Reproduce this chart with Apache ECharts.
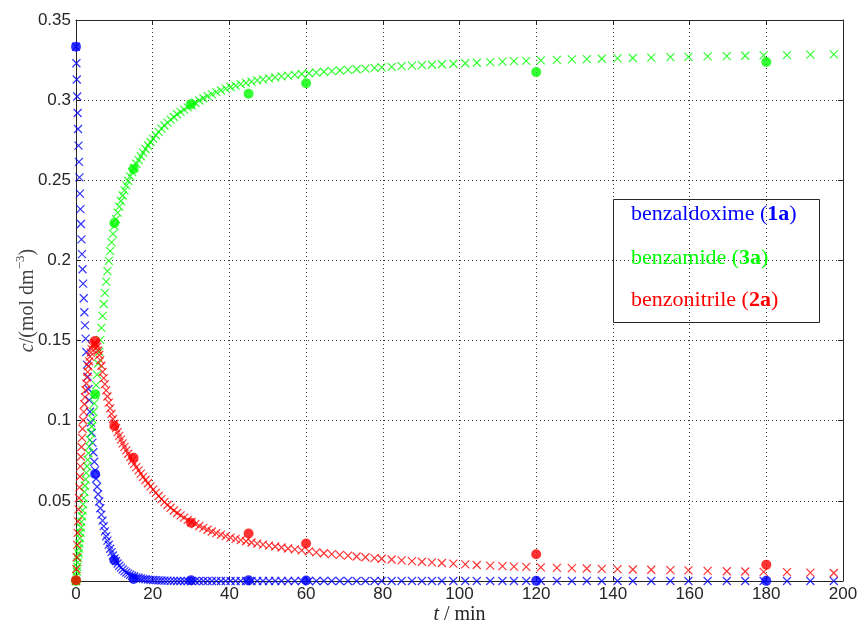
<!DOCTYPE html>
<html><head><meta charset="utf-8">
<script src="https://cdn.jsdelivr.net/npm/echarts@6/dist/echarts.min.js"></script>
<style>html,body{margin:0;padding:0;background:#fff}#c{width:858px;height:623px}</style>
</head><body><div id="c"></div><script>
// ---- data ----
const tModel = [
0, 0.1, 0.2, 0.31, 0.42, 0.53, 0.65, 0.77, 0.89, 1.02,
1.15, 1.28, 1.42, 1.56, 1.71, 1.86, 2.02, 2.18, 2.34, 2.51,
2.69, 2.87, 3.05, 3.25, 3.44, 3.65, 3.86, 4.07, 4.29, 4.52,
4.76, 5.0, 5.25, 5.51, 5.77, 6.05, 6.33, 6.62, 6.92, 7.23,
7.54, 7.87, 8.2, 8.55, 8.91, 9.27, 9.65, 10.04, 10.44, 10.86,
11.28, 11.72, 12.17, 12.64, 13.12, 13.61, 14.12, 14.64, 15.18, 15.74,
16.31, 16.9, 17.5, 18.13, 18.77, 19.44, 20.12, 20.82, 21.55, 22.29,
23.06, 23.86, 24.67, 25.51, 26.38, 27.27, 28.19, 29.13, 30.11, 31.11,
32.14, 33.21, 34.3, 35.43, 36.59, 37.79, 39.03, 40.3, 41.61, 42.95,
44.34, 45.77, 47.25, 48.76, 50.33, 51.94, 53.59, 55.3, 57.06, 58.87,
60.74, 62.66, 64.64, 66.68, 68.78, 70.94, 73.17, 75.47, 77.83, 79.7,
82.3, 84.9, 87.6, 90.2, 92.8, 95.4, 98.4, 101.5, 104.5, 108.0,
111.2, 114.2, 117.4, 121.2, 125.4, 129.3, 133.2, 137.1, 141.2, 145.2,
150.0, 155.0, 159.7, 164.7, 169.7, 174.5, 179.3, 185.4, 191.5, 197.6
];
const benzaldoximeModel = [
0.3333, 0.3230, 0.3129, 0.3023, 0.2920, 0.2820, 0.2716, 0.2615, 0.2518, 0.2417,
0.2320, 0.2227, 0.2131, 0.2039, 0.1945, 0.1855, 0.1764, 0.1677, 0.1595, 0.1512,
0.1429, 0.1350, 0.1275, 0.1198, 0.1128, 0.1056, 0.0988, 0.0925, 0.0863, 0.0803,
0.0744, 0.0690, 0.0638, 0.0588, 0.0541, 0.0496, 0.0454, 0.0414, 0.0377, 0.0342,
0.0310, 0.0279, 0.0252, 0.0226, 0.0201, 0.0180, 0.0159, 0.0141, 0.0124, 0.0109,
0.0095, 0.0083, 0.0072, 0.0062, 0.0053, 0.0046, 0.0039, 0.0033, 0.0028, 0.0023,
0.0020, 0.0016, 0.0013, 0.0011, 0.0009, 0.0007, 0.0006, 0.0005, 0.0004, 0.0003,
0.0002, 0.0002, 0.0001, 0.0001, 0, 0, 0, 0, 0, 0,
0, 0, 0, 0, 0, 0, 0, 0, 0, 0,
0, 0, 0, 0, 0, 0, 0, 0, 0, 0,
0, 0, 0, 0, 0, 0, 0, 0, 0, 0,
0, 0, 0, 0, 0, 0, 0, 0, 0, 0,
0, 0, 0, 0, 0, 0, 0, 0, 0, 0,
0, 0, 0, 0, 0, 0, 0, 0, 0, 0
];
const benzonitrileModel = [
0, 0.0075, 0.0148, 0.0225, 0.0300, 0.0372, 0.0447, 0.0518, 0.0584, 0.0652,
0.0715, 0.0775, 0.0836, 0.0893, 0.0950, 0.1003, 0.1055, 0.1103, 0.1147, 0.1190,
0.1232, 0.1270, 0.1305, 0.1340, 0.1370, 0.1400, 0.1425, 0.1447, 0.1465, 0.1477,
0.1484, 0.1485, 0.1476, 0.1460, 0.1438, 0.1410, 0.1378, 0.1343, 0.1305, 0.1266,
0.1228, 0.1189, 0.1151, 0.1113, 0.1077, 0.1043, 0.1011, 0.0981, 0.0954, 0.0929,
0.0905, 0.0882, 0.0859, 0.0837, 0.0815, 0.0794, 0.0773, 0.0752, 0.0731, 0.0710,
0.0690, 0.0670, 0.0650, 0.0630, 0.0610, 0.0590, 0.0570, 0.0550, 0.0530, 0.0511,
0.0492, 0.0474, 0.0457, 0.0440, 0.0424, 0.0409, 0.0395, 0.0381, 0.0368, 0.0355,
0.0343, 0.0331, 0.0320, 0.0309, 0.0299, 0.0289, 0.0280, 0.0271, 0.0263, 0.0255,
0.0248, 0.0240, 0.0233, 0.0227, 0.0221, 0.0215, 0.0209, 0.0203, 0.0197, 0.0191,
0.0185, 0.0179, 0.0173, 0.0168, 0.0163, 0.0158, 0.0153, 0.0148, 0.0143, 0.0139,
0.0134, 0.0129, 0.0124, 0.0120, 0.0116, 0.0112, 0.0108, 0.0104, 0.0100, 0.0096,
0.0093, 0.0090, 0.0088, 0.0085, 0.0082, 0.0080, 0.0078, 0.0076, 0.0074, 0.0072,
0.0070, 0.0068, 0.0066, 0.0063, 0.0061, 0.0059, 0.0057, 0.0055, 0.0052, 0.0050
];
const benzamideModel = [
0, 0.0031, 0.0059, 0.0088, 0.0116, 0.0144, 0.0173, 0.0203, 0.0234, 0.0267,
0.0301, 0.0334, 0.0369, 0.0404, 0.0441, 0.0478, 0.0517, 0.0556, 0.0594, 0.0634,
0.0675, 0.0716, 0.0756, 0.0798, 0.0838, 0.0880, 0.0923, 0.0964, 0.1008, 0.1056,
0.1108, 0.1161, 0.1222, 0.1288, 0.1357, 0.1430, 0.1504, 0.1579, 0.1654, 0.1728,
0.1798, 0.1868, 0.1933, 0.1997, 0.2058, 0.2113, 0.2166, 0.2214, 0.2258, 0.2298,
0.2336, 0.2371, 0.2405, 0.2437, 0.2468, 0.2496, 0.2524, 0.2551, 0.2577, 0.2603,
0.2626, 0.2650, 0.2673, 0.2695, 0.2717, 0.2739, 0.2760, 0.2781, 0.2802, 0.2822,
0.2842, 0.2860, 0.2878, 0.2895, 0.2912, 0.2927, 0.2941, 0.2955, 0.2968, 0.2984,
0.2998, 0.3012, 0.3025, 0.3038, 0.3050, 0.3061, 0.3072, 0.3082, 0.3091, 0.3100,
0.3108, 0.3116, 0.3123, 0.3130, 0.3136, 0.3142, 0.3148, 0.3153, 0.3158, 0.3163,
0.3168, 0.3172, 0.3177, 0.3181, 0.3185, 0.3189, 0.3193, 0.3197, 0.3201, 0.3204,
0.3208, 0.3212, 0.3215, 0.3218, 0.3221, 0.3224, 0.3227, 0.3230, 0.3233, 0.3237,
0.3240, 0.3243, 0.3245, 0.3248, 0.3251, 0.3254, 0.3256, 0.3258, 0.3261, 0.3263,
0.3265, 0.3268, 0.3270, 0.3273, 0.3275, 0.3277, 0.3279, 0.3281, 0.3284, 0.3286
];
const tExp = [0, 5, 10, 15, 30, 45, 60, 120, 180];
const benzaldoximeExp = [0.3333, 0.0667, 0.0129, 0.0012, 0.0005, 0.0004, 0.0003, 0.0001, 0.0001];
const benzamideExp    = [0, 0.1165, 0.2234, 0.2570, 0.2975, 0.3040, 0.3105, 0.3175, 0.3238];
const benzonitrileExp = [0.0005, 0.1498, 0.0967, 0.0769, 0.0363, 0.0296, 0.0234, 0.0167, 0.0102];
const xTicks = {min: 0, max: 200, interval: 20};
const yTicks = {min: 0, max: 0.35, interval: 0.05};

// ---- chart ----
const BLUE = '#0000ff', GREEN = '#00ff00', RED = '#ff0000';
const AX = '#262626';
const chart = echarts.init(document.getElementById('c'), null, {renderer: 'canvas'});
const pair = (t, v) => t.map((x, i) => [x, v[i]]);
const crossPath = 'path://M0,0L10,10M10,0L0,10';
function crossSeries(name, color, vals) {
  return {name, type: 'scatter', data: pair(tModel, vals), symbol: crossPath, symbolSize: 8,
    itemStyle: {color: 'rgba(0,0,0,0)', borderColor: color, borderWidth: 1.2}, silent: true, z: 3};
}
function dotSeries(name, color, vals) {
  return {name, type: 'scatter', data: pair(tExp, vals), symbol: 'circle', symbolSize: 10,
    itemStyle: {color}, silent: true, z: 4};
}
const serif = '"Liberation Serif", "DejaVu Serif", serif';
const sans = '"Liberation Sans", Arial, sans-serif';
const gridLine = {show: true, lineStyle: {color: '#333', type: [1, 3], width: 1}};
const option = {
  animation: false,
  backgroundColor: '#fff',
  grid: {left: 76, right: 15, top: 20, bottom: 42, containLabel: false, outerBoundsMode: 'none'},
  xAxis: [{
    type: 'value', ...xTicks,
    axisLine: {show: true, onZero: false, lineStyle: {color: AX}},
    axisTick: {show: true, inside: true, length: 5, lineStyle: {color: AX}},
    axisLabel: {color: AX, fontFamily: sans, fontSize: 17, margin: 5},
    splitLine: gridLine,
    name: '{i|t}{n| / min}', nameLocation: 'middle', nameGap: 24, nameMoveOverlap: false,
    nameTextStyle: {rich: {
      i: {fontFamily: serif, fontStyle: 'italic', fontSize: 20, color: AX},
      n: {fontFamily: serif, fontSize: 20, color: AX}}}
  }, {
    type: 'value', position: 'top', ...xTicks,
    axisLine: {show: true, onZero: false, lineStyle: {color: AX}},
    axisTick: {show: true, inside: true, length: 5, lineStyle: {color: AX}},
    axisLabel: {show: false}, splitLine: {show: false}
  }],
  yAxis: [{
    type: 'value', ...yTicks,
    axisLine: {show: true, onZero: false, lineStyle: {color: AX}},
    axisTick: {show: true, inside: true, length: 5, lineStyle: {color: AX}},
    axisLabel: {color: AX, fontFamily: sans, fontSize: 17, margin: 5,
      formatter: v => v === 0 ? '' : String(parseFloat(v.toFixed(2)))},
    splitLine: gridLine,
    name: '{i|c}{n|/(mol dm}{s|−3}{n|)}', nameLocation: 'middle', nameGap: 38, nameRotate: 90,
    nameMoveOverlap: false,
    nameTextStyle: {rich: {
      i: {fontFamily: serif, fontStyle: 'italic', fontSize: 20, color: '#444', lineHeight: 24, verticalAlign: 'bottom'},
      n: {fontFamily: serif, fontSize: 20, color: '#444', lineHeight: 24, verticalAlign: 'bottom'},
      s: {fontFamily: serif, fontSize: 13, color: '#444', lineHeight: 24, verticalAlign: 'top'}}}
  }, {
    type: 'value', position: 'right', ...yTicks,
    axisLine: {show: true, onZero: false, lineStyle: {color: AX}},
    axisTick: {show: true, inside: true, length: 5, lineStyle: {color: AX}},
    axisLabel: {show: false}, splitLine: {show: false}
  }],
  series: [
    crossSeries('benzaldoxime model', BLUE, benzaldoximeModel),
    crossSeries('benzamide model', GREEN, benzamideModel),
    crossSeries('benzonitrile model', RED, benzonitrileModel),
    dotSeries('benzaldoxime (1a)', BLUE, benzaldoximeExp),
    dotSeries('benzamide (3a)', GREEN, benzamideExp),
    dotSeries('benzonitrile (2a)', RED, benzonitrileExp)
  ],
  graphic: [
    {type: 'rect', shape: {x: 613.5, y: 199.5, width: 206, height: 123}, z: 10,
      style: {fill: 'none', stroke: AX, lineWidth: 1}},
    {type: 'text', x: 631, y: 214, z: 10, style: {text: '{n|benzaldoxime (}{b|1a}{n|)}', verticalAlign: 'middle',
      rich: {n: {fontFamily: serif, fontSize: 22, fill: BLUE}, b: {fontFamily: serif, fontSize: 22, fontWeight: 'bold', fill: BLUE}}}},
    {type: 'text', x: 631, y: 258, z: 10, style: {text: '{n|benzamide (}{b|3a}{n|)}', verticalAlign: 'middle',
      rich: {n: {fontFamily: serif, fontSize: 22, fill: GREEN}, b: {fontFamily: serif, fontSize: 22, fontWeight: 'bold', fill: GREEN}}}},
    {type: 'text', x: 631, y: 300, z: 10, style: {text: '{n|benzonitrile (}{b|2a}{n|)}', verticalAlign: 'middle',
      rich: {n: {fontFamily: serif, fontSize: 22, fill: RED}, b: {fontFamily: serif, fontSize: 22, fontWeight: 'bold', fill: RED}}}}
  ]
};
chart.setOption(option);
</script></body></html>
